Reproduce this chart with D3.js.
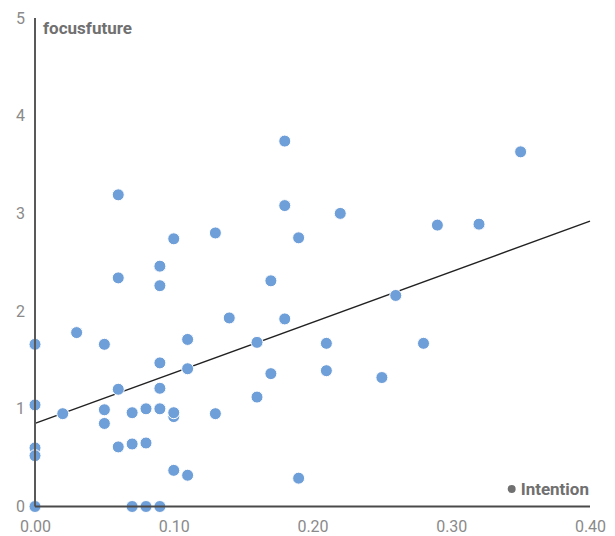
<!DOCTYPE html>
<html>
<head>
<meta charset="utf-8">
<script src="https://cdn.jsdelivr.net/npm/d3@7"></script>
<style>
  html, body { margin: 0; padding: 0; background: #fff; }
  svg { display: block; font-family: Roboto, "Noto Sans", sans-serif; }
</style>
</head>
<body>
<svg id="chart" width="615" height="536"></svg>
<script>
// Intention (x) vs focusfuture (y), one entry per respondent
const intention = [
  0, 0, 0, 0, 0,
  0.02, 0.03, 0.05, 0.05, 0.05,
  0.06, 0.06, 0.06, 0.06,
  0.07, 0.07, 0.07,
  0.08, 0.08, 0.08,
  0.09, 0.09, 0.09, 0.09, 0.09, 0.09,
  0.10, 0.10, 0.10, 0.10,
  0.11, 0.11, 0.11,
  0.13, 0.13, 0.14,
  0.16, 0.16, 0.17, 0.17,
  0.18, 0.18, 0.18, 0.19, 0.19,
  0.21, 0.21, 0.22, 0.25, 0.26,
  0.28, 0.29, 0.32, 0.35
];
const focusfuture = [
  1.66, 1.04, 0.60, 0.52, 0,
  0.95, 1.78, 1.66, 0.99, 0.85,
  1.20, 0.61, 3.19, 2.34,
  0.96, 0.64, 0,
  1.00, 0.65, 0,
  1.47, 1.21, 1.00, 0, 2.46, 2.26,
  0.92, 0.96, 0.37, 2.74,
  1.71, 1.41, 0.32,
  0.95, 2.80, 1.93,
  1.68, 1.12, 1.36, 2.31,
  1.92, 3.74, 3.08, 0.29, 2.75,
  1.67, 1.39, 3.00, 1.32, 2.16,
  1.67, 2.88, 2.89, 3.63
];
// Trend line: focusfuture value at intention = 0 and intention = 0.40
const trendX = [0, 0.4];
const trendY = [0.85, 2.92];
const xTicks = [0, 0.1, 0.2, 0.3, 0.4];
const yTicks = [0, 1, 2, 3, 4, 5];
const seriesName = "Intention";
const yTitle = "focusfuture";

const svg = d3.select("#chart");
const x = d3.scaleLinear().domain([0, 0.4]).range([35, 590]);
const y = d3.scaleLinear().domain([0, 5]).range([506.5, 18]);

const points = intention.map((v, i) => ({ x: v, y: focusfuture[i] }));

// Y axis labels
const yAxis = d3.axisLeft(y).tickValues(yTicks).tickSize(0).tickPadding(10).tickFormat(d3.format("d"));
const gy = svg.append("g").attr("transform", `translate(${x(0)},0)`).call(yAxis);
gy.select(".domain").remove();
gy.selectAll("text").attr("fill", "#8a8a8a").style("font-size", "16px").style("font-family", "Roboto");

// X axis labels
const xAxis = d3.axisBottom(x).tickValues(xTicks).tickSize(0).tickPadding(14).tickFormat(d3.format(".2f"));
const gx = svg.append("g").attr("transform", `translate(0,${y(0)})`).call(xAxis);
gx.select(".domain").remove();
gx.selectAll("text").attr("fill", "#8a8a8a").style("font-size", "16px").style("font-family", "Roboto");

// Trend line
const trend = d3.line().x((d, i) => x(d)).y((d, i) => y(trendY[i]));
svg.append("path").attr("d", trend(trendX))
  .attr("fill", "none").attr("stroke", "#222").attr("stroke-width", 1.4);

// Points
svg.append("g").selectAll("circle").data(points).join("circle")
  .attr("cx", d => x(d.x)).attr("cy", d => y(d.y)).attr("r", 6)
  .attr("fill", "#6f9fd8").attr("stroke", "#fff").attr("stroke-width", 1);

// Axis lines
svg.append("line").attr("x1", x(0)).attr("x2", x(0)).attr("y1", y(5)).attr("y2", y(0))
  .attr("stroke", "#595959").attr("stroke-width", 2);
svg.append("line").attr("x1", x(0)).attr("x2", x(0.4)).attr("y1", y(0)).attr("y2", y(0))
  .attr("stroke", "#4a4a4a").attr("stroke-width", 2);

// Axis title
svg.append("text").attr("x", x(0) + 8).attr("y", 34)
  .attr("fill", "#707070").style("font-size", "17px").style("font-weight", "bold")
  .text(yTitle);

// Legend
const legend = svg.append("g");
const lt = legend.append("text").attr("x", 589).attr("y", 495).attr("text-anchor", "end")
  .attr("fill", "#707070").style("font-size", "17px").style("font-weight", "bold").text(seriesName);
const lw = lt.node().getComputedTextLength();
legend.append("circle").attr("cx", 589 - lw - 9).attr("cy", 489).attr("r", 4).attr("fill", "#707070");
</script>
</body>
</html>
